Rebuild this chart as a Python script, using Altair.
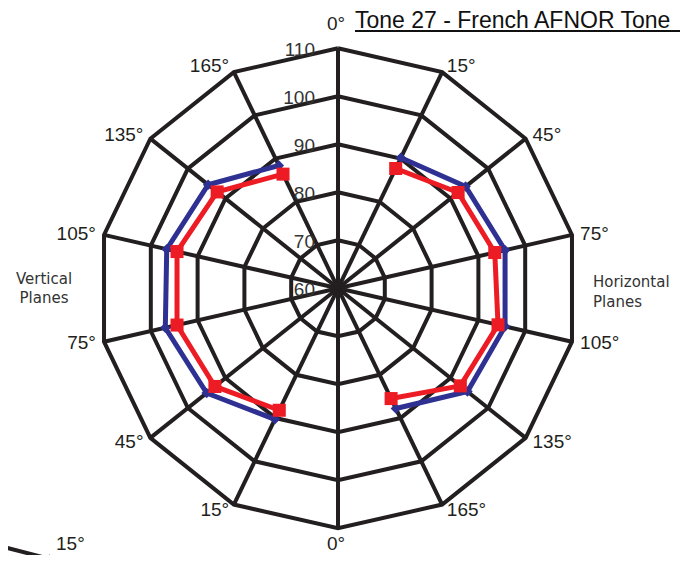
import math
import altair as alt
import pandas as pd

# ---------------- data ----------------
N_SPOKES = 14
RING_LEVELS = [70, 80, 90, 100, 110]
RING_LABELS = ["60", "70", "80", "90", "100", "110"]
RING_LABEL_VALUES = [60, 70, 80, 90, 100, 110]
BASE = 60

# spoke index (clockwise from top) and its printed label
SPOKE_IDX = [0, 1, 2, 3, 4, 5, 6, 7, 8, 9, 10, 11, 12, 13]
SPOKE_LABELS = ["0°", "15°", "45°", "75°", "105°", "135°", "165°", "0°",
                "15°", "45°", "75°", "105°", "135°", "165°"]

RIGHT_SPOKES = [1, 2, 3, 4, 5, 6]      # Horizontal planes
LEFT_SPOKES = [8, 9, 10, 11, 12, 13]   # Vertical planes

BLUE_RIGHT = [90.2, 94.0, 95.7, 95.7, 94.5, 87.8]
RED_RIGHT = [87.7, 92.0, 93.5, 94.2, 92.6, 85.5]
BLUE_LEFT = [90.3, 95.0, 96.9, 96.6, 94.6, 88.4]
RED_LEFT = [88.2, 92.8, 94.4, 94.4, 92.2, 86.4]

TITLE = "Tone 27 - French AFNOR Tone"

# ---------------- tables ----------------
STEP = 2 * math.pi / N_SPOKES

rings = pd.DataFrame([{"ring": v, "k": k, "v": v} for v in RING_LEVELS for k in range(N_SPOKES + 1)])
spokes = pd.DataFrame({"k": SPOKE_IDX, "v": [max(RING_LEVELS)] * N_SPOKES})

rows = []
for side, ks, b, r in [("R", RIGHT_SPOKES, BLUE_RIGHT, RED_RIGHT), ("L", LEFT_SPOKES, BLUE_LEFT, RED_LEFT)]:
    for k, bv, rv in zip(ks, b, r):
        rows.append({"side": side, "k": k, "v": bv, "series": "blue"})
        rows.append({"side": side, "k": k, "v": rv, "series": "red"})
series = pd.DataFrame(rows)

labels = pd.DataFrame({"k": SPOKE_IDX, "label": SPOKE_LABELS})
ringlab = pd.DataFrame({"label": RING_LABELS, "v": RING_LABEL_VALUES})

# ---------------- scales ----------------
PX = 4.8  # pixels per dB
CX, CY = 330.0, 280.3
W, H = 672, 547
XD = [-CX / PX, (W - CX) / PX]
YD = [-(H - CY) / PX, CY / PX]
xs = alt.Scale(domain=XD, nice=False, zero=False)
ys = alt.Scale(domain=YD, nice=False, zero=False)


def polar(ch, r_expr="datum.v - 60"):
    return ch.transform_calculate(
        x=f"({r_expr}) * sin(datum.k * {STEP})",
        y=f"({r_expr}) * cos(datum.k * {STEP})",
    )


X = alt.X("x:Q", scale=xs, axis=None)
Y = alt.Y("y:Q", scale=ys, axis=None)
INK = "#231F20"

ring_layer = polar(alt.Chart(rings)).mark_line(
    color=INK, strokeWidth=4, strokeJoin="miter"
).encode(x=X, y=Y, detail="ring:N", order="k:Q")

spoke_layer = alt.Chart(spokes).transform_calculate(
    x="0", y="0",
    x2=f"(datum.v - 60) * sin(datum.k * {STEP})",
    y2=f"(datum.v - 60) * cos(datum.k * {STEP})",
).mark_rule(color=INK, strokeWidth=4).encode(x=X, y=Y, x2="x2:Q", y2="y2:Q")


def series_layers(name, color, shape, size):
    base = polar(alt.Chart(series).transform_filter(f"datum.series == '{name}'"))
    line = base.mark_line(color=color, strokeWidth=5, strokeJoin="miter").encode(
        x=X, y=Y, detail="side:N", order="k:Q")
    pts = base.mark_point(color=color, filled=True, opacity=1, shape=shape, size=size).encode(x=X, y=Y)
    return line, pts


blue_line, blue_pts = series_layers("blue", "#2E3192", "diamond", 110)
red_line, red_pts = series_layers("red", "#ED1C24", "square", 170)

ring_text = alt.Chart(ringlab).transform_calculate(
    x="-4.8", y="datum.v - 60"
).mark_text(align="right", baseline="middle", dy=2, fontSize=19,
            font="Liberation Sans", color="#333333").encode(x=X, y=Y, text="label:N")

lab_common = dict(fontSize=19, font="Liberation Sans", color=INK)
right_lab = polar(alt.Chart(labels).transform_filter("datum.k >= 1 && datum.k <= 6"), "51.3").mark_text(
    align="left", baseline="middle", dx=2, **lab_common).encode(x=X, y=Y, text="label:N")
left_lab = polar(alt.Chart(labels).transform_filter("datum.k >= 8"), "51.3").mark_text(
    align="right", baseline="middle", dx=-2, **lab_common).encode(x=X, y=Y, text="label:N")
top_lab = polar(alt.Chart(labels).transform_filter("datum.k == 0"), "55").mark_text(
    align="center", baseline="middle", dx=-2, **lab_common).encode(x=X, y=Y, text="label:N")
bottom_lab = polar(alt.Chart(labels).transform_filter("datum.k == 7"), "55.3").mark_text(
    align="center", baseline="bottom", dx=-2, **lab_common).encode(x=X, y=Y, text="label:N")

title_df = pd.DataFrame({"t": [TITLE]})
title_text = alt.Chart(title_df).mark_text(
    align="left", baseline="alphabetic", fontSize=23, font="Liberation Sans", color="#111111"
).encode(x=alt.value(347), y=alt.value(20), text="t:N")
title_rule = alt.Chart(title_df).mark_rule(color="#111111", strokeWidth=2).encode(
    x=alt.value(347), x2=alt.value(700), y=alt.value(23))

planes_df = pd.DataFrame({"a": ["Vertical"], "b": ["Planes"], "c": ["Horizontal"]})
pl = dict(fontSize=15, font="DejaVu Sans", color="#333333", baseline="middle")
vert1 = alt.Chart(planes_df).mark_text(align="center", **pl).encode(x=alt.value(36), y=alt.value(271), text="a:N")
vert2 = alt.Chart(planes_df).mark_text(align="center", **pl).encode(x=alt.value(36), y=alt.value(290), text="b:N")
hor1 = alt.Chart(planes_df).mark_text(align="left", **pl).encode(x=alt.value(585), y=alt.value(274), text="c:N")
hor2 = alt.Chart(planes_df).mark_text(align="left", **pl).encode(x=alt.value(585), y=alt.value(294), text="b:N")

arrow_df = pd.DataFrame({"t": ["15°"]})
arrow_line = alt.Chart(arrow_df).mark_rule(color=INK, strokeWidth=4).encode(
    x=alt.value(-8), y=alt.value(538), x2=alt.value(42), y2=alt.value(551))
arrow_head = alt.Chart(arrow_df).mark_point(shape="triangle-right", angle=15, filled=True,
                                            color=INK, opacity=1, size=90).encode(
    x=alt.value(44), y=alt.value(552))
arrow_text = alt.Chart(arrow_df).mark_text(align="left", baseline="bottom", **lab_common).encode(
    x=alt.value(48), y=alt.value(546), text="t:N")

chart = alt.layer(
    ring_layer, spoke_layer, ring_text,
    blue_line, blue_pts, red_line, red_pts,
    right_lab, left_lab, top_lab, bottom_lab,
    title_text, title_rule, vert1, vert2, hor1, hor2,
    arrow_line, arrow_head, arrow_text,
).properties(
    width=W, height=H, padding=0,
    autosize=alt.AutoSizeParams(type="none"),
).configure_view(stroke=None)

chart.save("out.html", embed_options={"renderer": "svg", "actions": False})
